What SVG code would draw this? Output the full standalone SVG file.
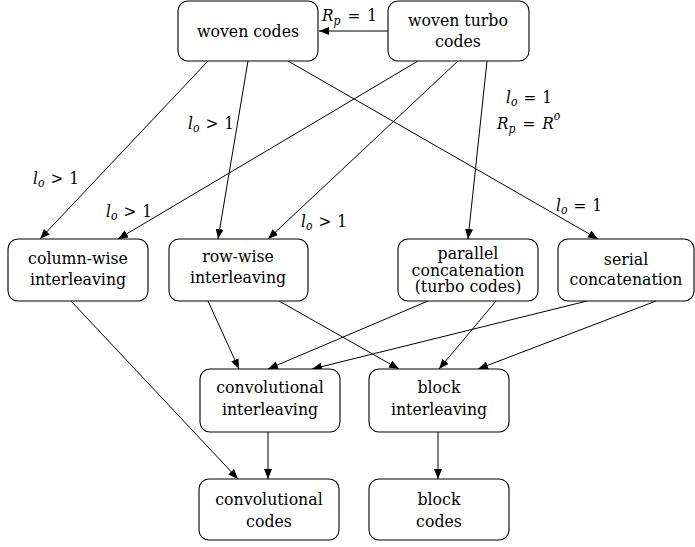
<svg xmlns="http://www.w3.org/2000/svg" width="695" height="547" viewBox="0 0 695 547">
<defs>
<marker id="ah" viewBox="0 0 10 8" refX="10" refY="4" markerWidth="10" markerHeight="8" markerUnits="userSpaceOnUse" orient="auto">
<path d="M0,0 L10,4 L0,8 z" fill="#000"/>
</marker>
<style>
.box{fill:#fff;stroke:#000;stroke-width:1.1}
.t{font-family:'DejaVu Serif Condensed','DejaVu Serif',serif;font-size:17.5px;text-anchor:middle;fill:#000}
.m{font-family:'DejaVu Serif Condensed','DejaVu Serif',serif;font-size:17px;fill:#000}
.i{font-style:italic}
.s{font-style:italic;font-size:12px}
.e{stroke:#000;stroke-width:1;fill:none;marker-end:url(#ah)}
</style>
</defs>
<rect width="695" height="547" fill="#fff"/>
<g id="connectors">
<line class="e" x1="388" y1="31" x2="319" y2="31"/>
<line class="e" x1="208" y1="61" x2="40" y2="239"/>
<line class="e" x1="248" y1="61" x2="218" y2="239"/>
<line class="e" x1="288" y1="61" x2="598" y2="239"/>
<line class="e" x1="418" y1="61" x2="118" y2="239"/>
<line class="e" x1="458" y1="61" x2="268" y2="239"/>
<line class="e" x1="487" y1="61" x2="468" y2="239"/>
<line class="e" x1="71" y1="301" x2="238" y2="479"/>
<line class="e" x1="208" y1="301" x2="239" y2="369"/>
<line class="e" x1="279" y1="301" x2="399" y2="369"/>
<line class="e" x1="428" y1="301" x2="268" y2="369"/>
<line class="e" x1="496" y1="301" x2="439" y2="369"/>
<line class="e" x1="587" y1="301" x2="312" y2="369"/>
<line class="e" x1="656" y1="301" x2="478" y2="369"/>
<line class="e" x1="268" y1="432" x2="268" y2="479"/>
<line class="e" x1="438" y1="432" x2="438" y2="479"/>
<text class="m" x="322" y="21" font-size="20"><tspan class="i">R</tspan><tspan class="s" font-size="14" dy="4">p</tspan><tspan dx="7" dy="-4">=</tspan><tspan dx="7">1</tspan></text>
<text class="m" x="33" y="184"><tspan class="i">l</tspan><tspan class="s" dy="3">o</tspan><tspan dx="6" dy="-3">&gt;</tspan><tspan dx="6">1</tspan></text>
<text class="m" x="106" y="217"><tspan class="i">l</tspan><tspan class="s" dy="3">o</tspan><tspan dx="6" dy="-3">&gt;</tspan><tspan dx="6">1</tspan></text>
<text class="m" x="188" y="129"><tspan class="i">l</tspan><tspan class="s" dy="3">o</tspan><tspan dx="6" dy="-3">&gt;</tspan><tspan dx="6">1</tspan></text>
<text class="m" x="301" y="227"><tspan class="i">l</tspan><tspan class="s" dy="3">o</tspan><tspan dx="6" dy="-3">&gt;</tspan><tspan dx="6">1</tspan></text>
<text class="m" x="506" y="103"><tspan class="i">l</tspan><tspan class="s" dy="3">o</tspan><tspan dx="6" dy="-3">=</tspan><tspan dx="6">1</tspan></text>
<text class="m" x="497" y="129" font-size="20"><tspan class="i">R</tspan><tspan class="s" font-size="14" dy="4">p</tspan><tspan dx="7" dy="-4">=</tspan><tspan class="i" dx="7">R</tspan><tspan class="s" font-size="14" dy="-9">o</tspan></text>
<text class="m" x="556" y="211"><tspan class="i">l</tspan><tspan class="s" dy="3">o</tspan><tspan dx="6" dy="-3">=</tspan><tspan dx="6">1</tspan></text>
</g>
<g id="woven-codes"><rect class="box" x="178" y="1" width="140" height="60" rx="10"/><text class="t" x="248" y="37">woven codes</text></g>
<g id="woven-turbo-codes"><rect class="box" x="388" y="1" width="141" height="60" rx="10"/><text class="t" x="458" y="26">woven turbo</text><text class="t" x="458" y="47">codes</text></g>
<g id="column-wise"><rect class="box" x="8" y="239" width="140" height="62" rx="10"/><text class="t" x="78" y="264">column-wise</text><text class="t" x="78" y="285">interleaving</text></g>
<g id="row-wise"><rect class="box" x="169" y="239" width="139" height="62" rx="10"/><text class="t" x="238" y="262">row-wise</text><text class="t" x="238" y="283">interleaving</text></g>
<g id="parallel"><rect class="box" x="398" y="239" width="140" height="62" rx="10"/><text class="t" x="468" y="259" font-size="17">parallel</text><text class="t" x="468" y="275.5" font-size="17">concatenation</text><text class="t" x="468" y="292" font-size="17">(turbo codes)</text></g>
<g id="serial"><rect class="box" x="558" y="239" width="136" height="62" rx="10"/><text class="t" x="626" y="265">serial</text><text class="t" x="626" y="285">concatenation</text></g>
<g id="conv-interleaving"><rect class="box" x="200" y="369" width="140" height="63" rx="10"/><text class="t" x="270" y="393">convolutional</text><text class="t" x="270" y="415">interleaving</text></g>
<g id="block-interleaving"><rect class="box" x="369" y="369" width="140" height="63" rx="10"/><text class="t" x="439" y="393">block</text><text class="t" x="439" y="415">interleaving</text></g>
<g id="conv-codes"><rect class="box" x="199" y="479" width="140" height="61" rx="10"/><text class="t" x="269" y="505">convolutional</text><text class="t" x="269" y="527">codes</text></g>
<g id="block-codes"><rect class="box" x="369" y="479" width="140" height="61" rx="10"/><text class="t" x="439" y="505">block</text><text class="t" x="439" y="527">codes</text></g>
</svg>
